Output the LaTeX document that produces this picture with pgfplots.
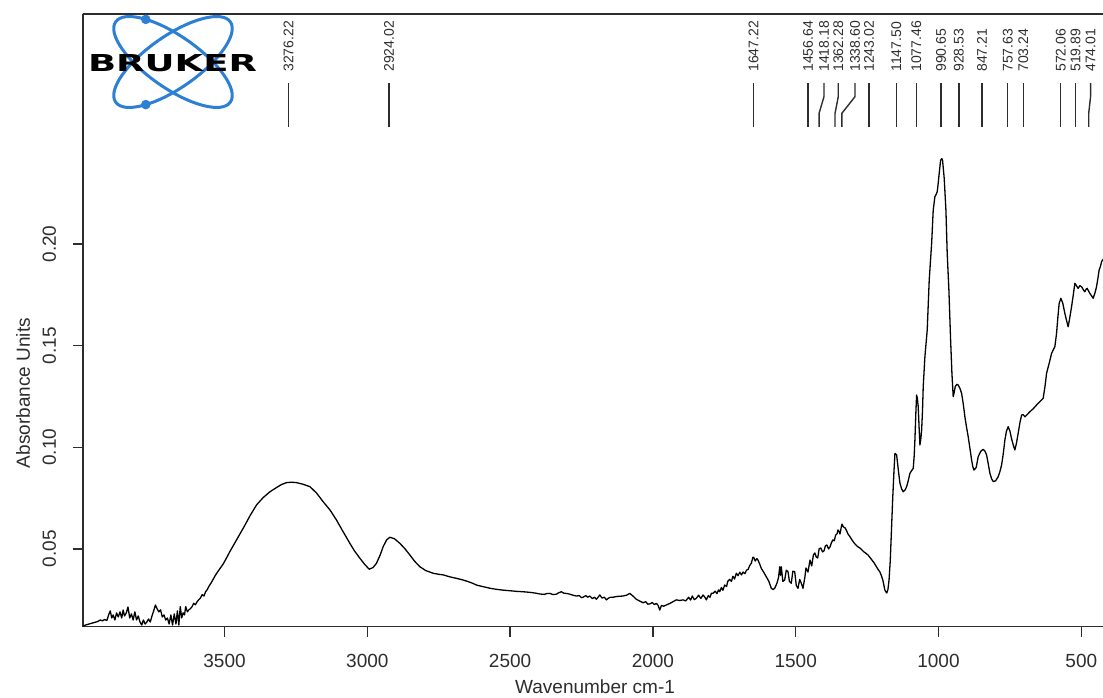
\documentclass[border=0pt]{standalone}
\usepackage{fontspec}
\setmainfont{Liberation Sans}
\newfontfamily\logofont{DejaVu Sans}
\usepackage{graphicx}
\usepackage{pgfplots}
\usepackage{pgfplotstable}
\pgfplotsset{compat=1.18}
\definecolor{brukerblue}{RGB}{43,127,212}
\definecolor{axgray}{RGB}{45,45,45}

\pgfplotstableread{
w A
3994 0.0121
3985 0.0126
3975 0.0130
3965 0.0134
3955 0.0138
3945 0.0142
3935 0.0150
3928 0.0146
3920 0.0152
3912 0.0148
3905 0.0178
3900 0.0195
3895 0.0160
3890 0.0175
3884 0.0150
3878 0.0185
3872 0.0165
3866 0.0190
3860 0.0160
3855 0.0199
3850 0.0170
3844 0.0185
3838 0.0214
3832 0.0160
3826 0.0180
3820 0.0150
3814 0.0190
3808 0.0150
3802 0.0170
3796 0.0140
3790 0.0125
3784 0.0150
3778 0.0130
3772 0.0140
3766 0.0155
3760 0.0140
3754 0.0170
3748 0.0195
3742 0.0224
3736 0.0205
3730 0.0190
3724 0.0200
3718 0.0165
3712 0.0175
3706 0.0150
3700 0.0160
3694 0.0130
3688 0.0175
3682 0.0125
3676 0.0180
3670 0.0130
3665 0.0195
3660 0.0125
3655 0.0216
3650 0.0160
3645 0.0185
3640 0.0175
3636 0.0216
3630 0.0190
3625 0.0200
3620 0.0205
3614 0.0215
3608 0.0232
3602 0.0225
3596 0.0240
3590 0.0250
3585 0.0257
3578 0.0275
3572 0.0268
3566 0.0290
3561 0.0298
3555 0.0315
3548 0.0330
3540 0.0350
3532 0.0370
3525 0.0385
3515 0.0405
3505 0.0425
3497 0.0445
3480 0.0490
3458 0.0544
3430 0.0613
3410 0.0665
3388 0.0716
3365 0.0752
3341 0.0781
3320 0.0800
3300 0.0817
3283 0.0826
3265 0.0828
3248 0.0826
3225 0.0818
3201 0.0806
3178 0.0775
3154.6 0.0732
3130 0.0690
3108 0.0642
3085 0.0585
3061 0.0527
3045 0.0490
3026 0.0454
3010 0.0425
2993.5 0.0400
2980 0.0408
2968 0.0429
2955 0.0470
2944.5 0.0511
2932 0.0545
2921 0.0557
2905 0.0550
2886 0.0527
2868 0.0500
2851 0.0470
2835 0.0440
2816 0.0412
2795 0.0393
2769.5 0.0380
2750 0.0375
2734.5 0.0372
2710 0.0362
2688 0.0355
2665 0.0347
2647 0.0339
2630 0.0330
2618 0.0322
2594.5 0.0314
2570 0.0306
2548 0.0301
2525 0.0297
2501 0.0294
2478 0.0291
2454.5 0.0289
2430 0.0286
2410 0.0282
2396 0.0278
2380 0.0276
2372 0.0280
2361 0.0281
2350 0.0275
2338 0.0277
2330 0.0284
2320.5 0.0289
2312 0.0282
2300 0.0280
2291 0.0277
2280 0.0272
2268 0.0268
2258 0.0270
2250 0.0260
2244.5 0.0262
2235 0.0270
2228 0.0262
2221 0.0268
2212 0.0255
2204 0.0262
2198 0.0252
2192 0.0262
2186 0.0273
2178 0.0258
2170 0.0262
2163 0.0249
2155 0.0258
2148 0.0262
2139.5 0.0262
2125 0.0266
2104.5 0.0268
2092 0.0272
2081 0.0281
2070 0.0268
2058 0.0252
2046 0.0243
2034.5 0.0235
2025 0.0240
2018 0.0228
2011 0.0229
2002 0.0236
1995 0.0226
1988 0.0232
1982 0.0222
1976 0.0199
1970 0.0222
1962 0.0218
1953 0.0224
1940 0.0232
1930 0.0240
1918 0.0249
1906 0.0246
1894.5 0.0249
1885 0.0244
1875 0.0262
1868 0.0248
1862 0.0268
1855 0.0250
1848 0.0257
1840 0.0272
1832 0.0256
1824.5 0.0273
1818 0.0262
1813 0.0249
1806 0.0270
1800 0.0262
1795 0.0282
1789.5 0.0281
1782 0.0292
1776 0.0280
1770 0.0298
1766 0.0289
1760 0.0310
1755 0.0296
1748.5 0.0322
1742 0.0315
1738 0.0340
1731 0.0350
1725 0.0340
1720 0.0365
1714 0.0352
1708 0.0380
1702 0.0368
1696 0.0385
1690 0.0372
1684.5 0.0386
1678 0.0378
1672 0.0396
1667 0.0398
1661 0.0418
1655.5 0.0429
1650 0.0458
1647 0.0459
1642 0.0440
1636 0.0452
1632 0.0445
1626 0.0425
1620.5 0.0404
1612 0.0385
1603 0.0363
1594 0.0340
1585.5 0.0306
1579 0.0300
1573.5 0.0306
1566 0.0330
1560 0.0360
1556 0.0412
1553 0.0370
1550.5 0.0412
1545 0.0340
1538.5 0.0347
1533 0.0395
1527 0.0388
1522 0.0340
1515.5 0.0331
1510 0.0390
1503.5 0.0388
1498 0.0320
1492 0.0306
1486 0.0350
1480.5 0.0331
1474.5 0.0306
1468 0.0360
1464 0.0406
1457 0.0386
1450 0.0445
1444 0.0416
1438 0.0470
1433 0.0480
1428 0.0460
1423 0.0455
1418 0.0500
1412 0.0504
1406 0.0485
1401 0.0490
1396 0.0515
1391 0.0519
1385 0.0500
1380 0.0509
1375 0.0530
1370 0.0544
1365 0.0540
1360 0.0568
1355 0.0575
1352 0.0593
1348 0.0585
1345 0.0573
1340 0.0610
1338 0.0622
1333 0.0608
1327 0.0603
1322 0.0590
1317 0.0573
1310 0.0560
1303 0.0544
1296 0.0530
1289 0.0519
1282 0.0510
1275 0.0504
1268 0.0495
1261 0.0485
1254 0.0478
1247 0.0470
1240 0.0458
1233 0.0445
1226 0.0432
1219 0.0416
1212 0.0400
1205 0.0386
1200 0.0368
1195 0.0347
1191 0.0320
1188 0.0298
1184 0.0288
1181 0.0283
1177 0.0300
1173 0.0350
1169 0.0440
1165 0.0580
1160.6 0.0740
1156 0.0880
1152.5 0.0970
1146.6 0.0962
1140 0.0880
1135 0.0823
1129 0.0795
1123.5 0.0781
1117 0.0790
1111.6 0.0806
1106 0.0835
1100 0.0872
1094 0.0885
1088.5 0.0896
1085 0.0960
1082.6 0.1036
1079 0.1180
1076.6 0.1257
1074 0.1240
1071 0.1200
1068 0.1100
1065 0.1011
1062 0.1040
1059 0.1085
1056 0.1180
1053.5 0.1298
1047.6 0.1446
1039.5 0.1577
1032.5 0.1823
1024 0.2003
1018.5 0.2167
1012.6 0.2233
1008 0.2245
1004.5 0.2257
1001 0.2300
997.5 0.2348
992.6 0.2413
988 0.2420
985.6 0.2410
980 0.2323
974 0.2167
969.5 0.1954
963.6 0.1774
957.6 0.1528
953 0.1364
948.5 0.1249
945 0.1270
941.5 0.1298
936 0.1310
931 0.1306
925 0.1290
919 0.1265
913 0.1210
907.6 0.1150
902 0.1100
896 0.1052
890 0.0995
884 0.0937
880 0.0905
876 0.0888
868 0.0900
861 0.0954
852 0.0980
843.5 0.0990
837 0.0980
831.6 0.0962
826 0.0920
820 0.0872
814 0.0845
808.5 0.0831
800 0.0835
791 0.0855
785 0.0880
779 0.0913
773 0.0970
767.5 0.1036
762 0.1080
756 0.1101
750 0.1080
744.5 0.1044
738 0.1010
732.5 0.0987
727 0.1020
721 0.1069
715 0.1120
709 0.1159
703 0.1160
697.5 0.1150
690 0.1160
680 0.1175
668 0.1190
656.6 0.1208
645 0.1225
633.5 0.1241
627 0.1300
621.6 0.1364
612.5 0.1413
604 0.1462
598 0.1480
592.5 0.1495
586.6 0.1561
582 0.1640
577.5 0.1708
571.6 0.1733
565 0.1710
557.6 0.1659
551 0.1620
546 0.1593
540 0.1640
534 0.1692
528 0.1750
522.6 0.1807
517 0.1795
511 0.1782
505 0.1795
499 0.1790
493 0.1775
487.6 0.1765
483 0.1778
479.5 0.1782
475 0.1770
470 0.1757
464 0.1745
458.5 0.1733
452 0.1760
446.6 0.1790
442 0.1830
437.5 0.1872
433 0.1890
429 0.1913
424 0.1925
}\spectrum

\newcommand{\peak}[2]{%
  \addplot[axgray, line width=0.7pt] coordinates {(#1,0.2576) (#1,0.2792)};
  \node[rotate=90, anchor=west, inner sep=0pt, text=axgray,
        font=\fontsize{7}{8}\selectfont] at (axis cs:#1,0.2846) {#2};
}

\begin{document}
\begin{tikzpicture}
\path[use as bounding box] (0,0) rectangle (551.5pt,348.5pt);
\begin{axis}[
  at={(41.5pt,35.15pt)}, anchor=south west,
  scale only axis, width=510pt, height=306.35pt,
  x dir=reverse,
  xmin=424, xmax=3995.6,
  ymin=0.0117, ymax=0.3132,
  axis lines*=left,
  axis line style={-, axgray, line width=0.75pt},
  tick align=outside,
  major tick length=5pt,
  tick style={axgray, line width=0.75pt},
  xtick={500,1000,1500,2000,2500,3000,3500},
  ytick={0.05,0.10,0.15,0.20},
  minor tick num=0,
  /pgf/number format/assume math mode=true,
  ticklabel style={font=\fontsize{9.5}{11}\selectfont, text=axgray},
  x tick label style={/pgf/number format/.cd, 1000 sep={}},
  y tick label style={rotate=90, anchor=south, /pgf/number format/.cd, fixed, fixed zerofill, precision=2},
  xticklabel shift=5.1pt,
  yticklabel shift=4.9pt,
  xlabel={Wavenumber cm-1},
  ylabel={Absorbance Units},
  label style={font=\fontsize{9.5}{11}\selectfont, text=axgray},
  xlabel style={at={(axis description cs:0.502,-0.098)}, anchor=center},
  ylabel style={at={(axis description cs:-0.0588,0.3814)}, anchor=center},
]
\draw[axgray, line width=0.75pt] (rel axis cs:0,0) -- (rel axis cs:0,1) -- (rel axis cs:1,1);
\addplot[black, line width=0.65pt, line join=round] table[x=w, y=A] {\spectrum};

\peak{3276.22}{3276.22}
\peak{2924.02}{2924.02}
\peak{1647.22}{1647.22}
\peak{1456.64}{1456.64}
\peak{1243.02}{1243.02}
\peak{1147.50}{1147.50}
\peak{1077.46}{1077.46}
\peak{990.65}{990.65}
\peak{928.53}{928.53}
\peak{847.21}{847.21}
\peak{757.63}{757.63}
\peak{703.24}{703.24}
\peak{572.06}{572.06}
\peak{519.89}{519.89}

\addplot[axgray, line width=0.7pt] coordinates {(1401,0.2792) (1401,0.2725) (1418.18,0.2643) (1418.18,0.2576)};
\node[rotate=90, anchor=west, inner sep=0pt, text=axgray, font=\fontsize{7}{8}\selectfont] at (axis cs:1401,0.2846) {1418.18};
\addplot[axgray, line width=0.7pt] coordinates {(1351,0.2792) (1351,0.2725) (1362.28,0.2643) (1362.28,0.2576)};
\node[rotate=90, anchor=west, inner sep=0pt, text=axgray, font=\fontsize{7}{8}\selectfont] at (axis cs:1351,0.2846) {1362.28};
\addplot[axgray, line width=0.7pt] coordinates {(1292.5,0.2792) (1292.5,0.2725) (1338.60,0.2643) (1338.60,0.2576)};
\node[rotate=90, anchor=west, inner sep=0pt, text=axgray, font=\fontsize{7}{8}\selectfont] at (axis cs:1292.5,0.2846) {1338.60};
\addplot[axgray, line width=0.7pt] coordinates {(467.6,0.2792) (467.6,0.2725) (474.01,0.2643) (474.01,0.2576)};
\node[rotate=90, anchor=west, inner sep=0pt, text=axgray, font=\fontsize{7}{8}\selectfont] at (axis cs:467.6,0.2846) {474.01};
\end{axis}

% Bruker logo
\draw[brukerblue, line width=1.5pt, rotate around={-35:(86.5pt,317.5pt)}] (86.5pt,317.5pt) ellipse [x radius=35pt, y radius=13pt];
\draw[brukerblue, line width=1.5pt, rotate around={35:(86.5pt,317.5pt)}] (86.5pt,317.5pt) ellipse [x radius=35pt, y radius=13pt];
\fill[brukerblue] (72.9pt,338.8pt) circle (2.4pt);
\fill[brukerblue] (72.9pt,296.2pt) circle (2.4pt);
\node[inner sep=0pt, font=\logofont\fontsize{11.66}{12}\selectfont\bfseries] at (86.25pt,316.75pt) {\scalebox{1.585}[1]{BRUKER}};
\end{tikzpicture}
\end{document}
